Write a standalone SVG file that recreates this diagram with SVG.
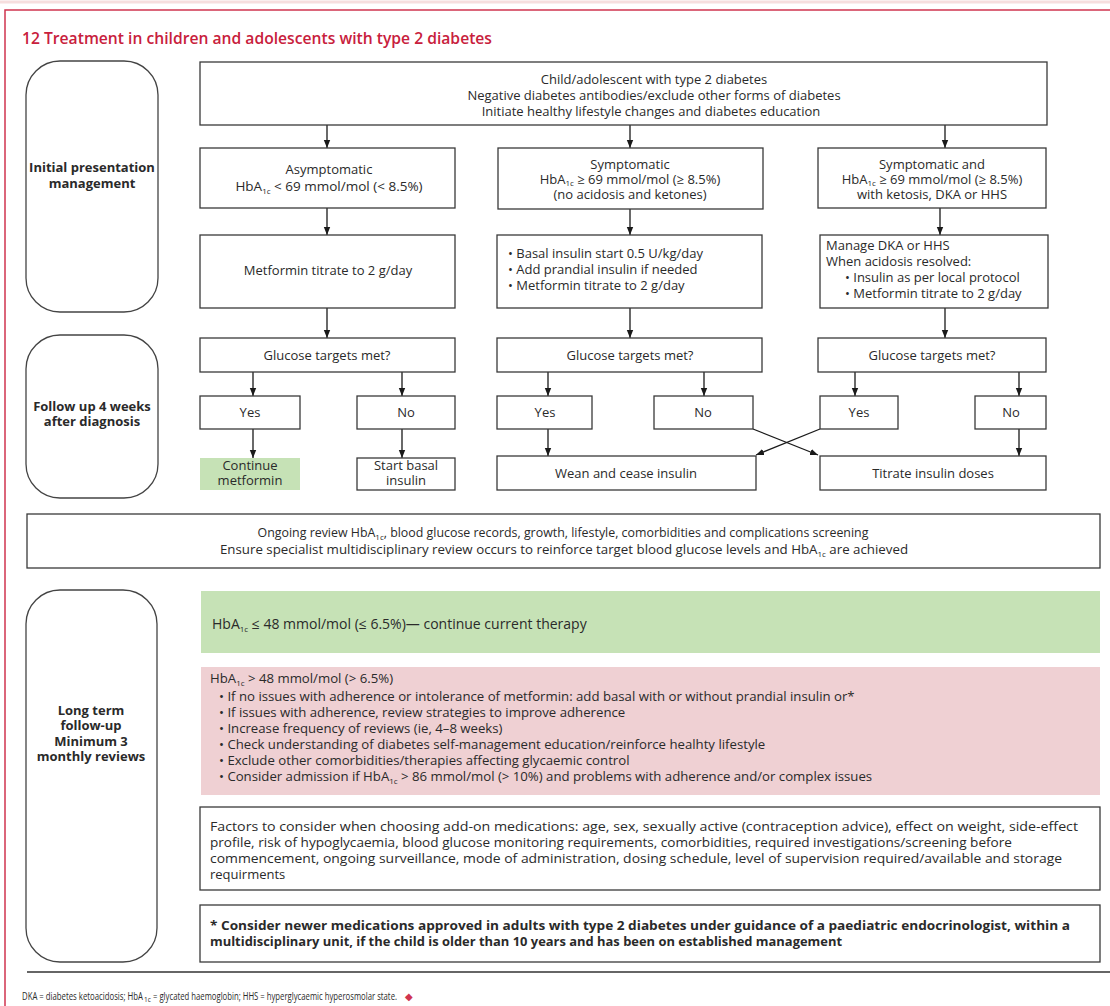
<svg xmlns="http://www.w3.org/2000/svg" width="1110" height="1006" viewBox="0 0 1110 1006">
<defs>
<style>
.t{font-family:"Open Sans","Liberation Sans",Arial,sans-serif;font-size:13px;fill:#2a2a2a}
.c{text-anchor:middle}
.b{font-weight:bold}
.box{fill:#fff;stroke:#3a3a3a;stroke-width:1.3}
.side{fill:#fff;stroke:#444;stroke-width:1.3}
.green{fill:#c6e2b6;stroke:none}
.pink{fill:#efd0d3;stroke:none}
.ln{stroke:#1a1a1a;stroke-width:1.3;fill:none}
.sub{font-size:8px}
.ft{font-family:"Open Sans","Liberation Sans",Arial,sans-serif;font-size:10px;fill:#2a2a2a}
</style>
<marker id="ah" viewBox="0 0 10 10" refX="10" refY="5" markerWidth="8" markerHeight="8" markerUnits="userSpaceOnUse" orient="auto">
<path d="M0,1 L10,5 L0,9 z" fill="#1a1a1a"/>
</marker>
</defs>
<rect x="0" y="0" width="1110" height="1006" fill="#fff"/>
<line x1="0" y1="2" x2="1110" y2="2" stroke="#f6dede" stroke-width="3"/>
<path d="M5,1006 L5,10 L1110,10" fill="none" stroke="#d0344f" stroke-width="1.5"/>
<text x="22" y="44" font-family="'Open Sans','Liberation Sans',sans-serif" font-size="17" font-weight="600" fill="#c8203c" textLength="470" lengthAdjust="spacingAndGlyphs">12  Treatment in children and adolescents with type 2 diabetes</text>

<g id="phase-initial">
<rect class="side" x="26" y="61" width="132" height="251" rx="34"/>
<text class="t c b" x="92" y="172">Initial presentation</text>
<text class="t c b" x="92" y="188">management</text>
</g>
<g id="phase-followup">
<rect class="side" x="26" y="335" width="132" height="163" rx="34"/>
<text class="t c b" x="92" y="411">Follow up 4 weeks</text>
<text class="t c b" x="92" y="426">after diagnosis</text>
</g>
<g id="phase-longterm">
<rect class="side" x="26" y="590" width="131" height="372" rx="34"/>
<text class="t c b" x="91" y="715">Long term</text>
<text class="t c b" x="91" y="730">follow-up</text>
<text class="t c b" x="91" y="746">Minimum 3</text>
<text class="t c b" x="91" y="761">monthly reviews</text>
</g>

<g id="connectors">
<line class="ln" x1="327" y1="125" x2="327" y2="148" marker-end="url(#ah)"/>
<line class="ln" x1="630" y1="125" x2="630" y2="148" marker-end="url(#ah)"/>
<line class="ln" x1="945" y1="125" x2="945" y2="148" marker-end="url(#ah)"/>
<line class="ln" x1="327" y1="208" x2="327" y2="235" marker-end="url(#ah)"/>
<line class="ln" x1="630" y1="209" x2="630" y2="235" marker-end="url(#ah)"/>
<line class="ln" x1="940" y1="208" x2="940" y2="235" marker-end="url(#ah)"/>
<line class="ln" x1="327" y1="308" x2="327" y2="338" marker-end="url(#ah)"/>
<line class="ln" x1="630" y1="308" x2="630" y2="338" marker-end="url(#ah)"/>
<line class="ln" x1="945" y1="308" x2="945" y2="338" marker-end="url(#ah)"/>
<line class="ln" x1="253" y1="372" x2="253" y2="396" marker-end="url(#ah)"/>
<line class="ln" x1="402" y1="372" x2="402" y2="396" marker-end="url(#ah)"/>
<line class="ln" x1="548" y1="372" x2="548" y2="396" marker-end="url(#ah)"/>
<line class="ln" x1="704" y1="372" x2="704" y2="396" marker-end="url(#ah)"/>
<line class="ln" x1="855" y1="372" x2="855" y2="396" marker-end="url(#ah)"/>
<line class="ln" x1="1019" y1="372" x2="1019" y2="396" marker-end="url(#ah)"/>
<line class="ln" x1="253" y1="429" x2="253" y2="458" marker-end="url(#ah)"/>
<line class="ln" x1="402" y1="429" x2="402" y2="458" marker-end="url(#ah)"/>
<line class="ln" x1="548" y1="429" x2="548" y2="456" marker-end="url(#ah)"/>
<line class="ln" x1="1019" y1="429" x2="1019" y2="456" marker-end="url(#ah)"/>
<line class="ln" x1="753" y1="429" x2="818" y2="455" marker-end="url(#ah)"/>
<line class="ln" x1="820" y1="429" x2="756" y2="455" marker-end="url(#ah)"/>
</g>

<g id="start">
<rect class="box" x="200" y="62" width="847" height="63"/>
<text class="t c" x="654" y="84">Child/adolescent with type 2 diabetes</text>
<text class="t c" x="654" y="100">Negative diabetes antibodies/exclude other forms of diabetes</text>
<text class="t c" x="651" y="116">Initiate healthy lifestyle changes and diabetes education</text>
</g>

<g id="asymptomatic">
<rect class="box" x="200" y="148" width="255" height="60"/>
<text class="t c" x="329" y="174">Asymptomatic</text>
<text class="t c" x="329" y="191" style="font-size:13.5px">HbA<tspan class="sub" dy="3">1c</tspan><tspan dy="-3"> &lt; 69 mmol/mol (&lt; 8.5%)</tspan></text>
</g>
<g id="symptomatic">
<rect class="box" x="498" y="148" width="265" height="61"/>
<text class="t c" x="630" y="169">Symptomatic</text>
<text class="t c" x="630" y="184">HbA<tspan class="sub" dy="2">1c</tspan><tspan dy="-2"> ≥ 69 mmol/mol (≥ 8.5%)</tspan></text>
<text class="t c" x="630" y="199">(no acidosis and ketones)</text>
</g>
<g id="symptomatic-dka">
<rect class="box" x="818" y="148" width="228" height="60"/>
<text class="t c" x="932" y="169">Symptomatic and</text>
<text class="t c" x="932" y="184">HbA<tspan class="sub" dy="2">1c</tspan><tspan dy="-2"> ≥ 69 mmol/mol (≥ 8.5%)</tspan></text>
<text class="t c" x="932" y="199">with ketosis, DKA or HHS</text>
</g>

<g id="metformin">
<rect class="box" x="200" y="235" width="255" height="73"/>
<text class="t c" x="328" y="275">Metformin titrate to 2 g/day</text>
</g>
<g id="basal-insulin">
<rect class="box" x="497" y="235" width="265" height="73"/>
<text class="t" x="508" y="258">• Basal insulin start 0.5 U/kg/day</text>
<text class="t" x="508" y="274">• Add prandial insulin if needed</text>
<text class="t" x="508" y="290">• Metformin titrate to 2 g/day</text>
</g>
<g id="manage-dka">
<rect class="box" x="820" y="235" width="228" height="73"/>
<text class="t" x="826" y="250">Manage DKA or HHS</text>
<text class="t" x="826" y="266">When acidosis resolved:</text>
<text class="t" x="845" y="282">• Insulin as per local protocol</text>
<text class="t" x="845" y="298">• Metformin titrate to 2 g/day</text>
</g>

<g id="glucose-1">
<rect class="box" x="200" y="338" width="255" height="34"/>
<text class="t c" x="327" y="360">Glucose targets met?</text>
</g>
<g id="glucose-2">
<rect class="box" x="497" y="338" width="265" height="34"/>
<text class="t c" x="630" y="360">Glucose targets met?</text>
</g>
<g id="glucose-3">
<rect class="box" x="818" y="338" width="228" height="34"/>
<text class="t c" x="932" y="360">Glucose targets met?</text>
</g>

<g id="yes-1">
<rect class="box" x="200" y="396" width="100" height="33"/>
<text class="t c" x="250" y="417">Yes</text>
</g>
<g id="no-1">
<rect class="box" x="357" y="396" width="98" height="33"/>
<text class="t c" x="406" y="417">No</text>
</g>
<g id="yes-2">
<rect class="box" x="497" y="396" width="95" height="33"/>
<text class="t c" x="545" y="417">Yes</text>
</g>
<g id="no-2">
<rect class="box" x="654" y="396" width="99" height="33"/>
<text class="t c" x="703" y="417">No</text>
</g>
<g id="yes-3">
<rect class="box" x="820" y="396" width="78" height="33"/>
<text class="t c" x="859" y="417">Yes</text>
</g>
<g id="no-3">
<rect class="box" x="975" y="396" width="71" height="33"/>
<text class="t c" x="1011" y="417">No</text>
</g>

<g id="continue-metformin">
<rect class="green" x="200" y="458" width="100" height="32"/>
<text class="t c" x="250" y="470">Continue</text>
<text class="t c" x="250" y="485">metformin</text>
</g>
<g id="start-basal">
<rect class="box" x="357" y="458" width="98" height="32" stroke-width="1.6"/>
<text class="t c" x="406" y="470">Start basal</text>
<text class="t c" x="406" y="485">insulin</text>
</g>
<g id="wean">
<rect class="box" x="497" y="456" width="259" height="34"/>
<text class="t c" x="626" y="478">Wean and cease insulin</text>
</g>
<g id="titrate">
<rect class="box" x="820" y="456" width="226" height="34"/>
<text class="t c" x="933" y="478">Titrate insulin doses</text>
</g>

<g id="ongoing-review">
<rect class="box" x="27" y="514" width="1073" height="54"/>
<text class="t c" x="563" y="537" style="font-size:12.4px">Ongoing review HbA<tspan class="sub" dy="3">1c</tspan><tspan dy="-3">, blood glucose records, growth, lifestyle, comorbidities and complications screening</tspan></text>
<text class="t c" x="564" y="554" style="font-size:13.3px">Ensure specialist multidisciplinary review occurs to reinforce target blood glucose levels and HbA<tspan class="sub" dy="3">1c</tspan><tspan dy="-3"> are achieved</tspan></text>
</g>

<g id="target-met">
<rect class="green" x="201" y="591" width="899" height="62"/>
<text class="t" x="212" y="629" style="font-size:14px">HbA<tspan class="sub" dy="3">1c</tspan><tspan dy="-3"> ≤ 48 mmol/mol (≤ 6.5%)— continue current therapy</tspan></text>
</g>

<g id="target-not-met">
<rect class="pink" x="201" y="667" width="899" height="128"/>
<text class="t" x="210" y="683" style="font-size:13.2px">HbA<tspan class="sub" dy="3">1c</tspan><tspan dy="-3"> &gt; 48 mmol/mol (&gt; 6.5%)</tspan></text>
<text class="t" x="219" y="701" style="font-size:13.2px">• If no issues with adherence or intolerance of metformin: add basal with or without prandial insulin or*</text>
<text class="t" x="219" y="717" style="font-size:13.2px">• If issues with adherence, review strategies to improve adherence</text>
<text class="t" x="219" y="733" style="font-size:13.2px">• Increase frequency of reviews (ie, 4–8 weeks)</text>
<text class="t" x="219" y="749" style="font-size:13.2px">• Check understanding of diabetes self-management education/reinforce healhty lifestyle</text>
<text class="t" x="219" y="765" style="font-size:13.2px">• Exclude other comorbidities/therapies affecting glycaemic control</text>
<text class="t" x="219" y="781" style="font-size:13.2px">• Consider admission if HbA<tspan class="sub" dy="3">1c</tspan><tspan dy="-3"> &gt; 86 mmol/mol (&gt; 10%) and problems with adherence and/or complex issues</tspan></text>
</g>

<g id="factors">
<rect class="box" x="200" y="807" width="900" height="83"/>
<text class="t" x="210" y="831" textLength="868" lengthAdjust="spacingAndGlyphs">Factors to consider when choosing add-on medications: age, sex, sexually active (contraception advice), effect on weight, side-effect</text>
<text class="t" x="210" y="847" textLength="802" lengthAdjust="spacingAndGlyphs">profile, risk of hypoglycaemia, blood glucose monitoring requirements, comorbidities, required investigations/screening before</text>
<text class="t" x="210" y="863" textLength="852" lengthAdjust="spacingAndGlyphs">commencement, ongoing surveillance, mode of administration, dosing schedule, level of supervision required/available and storage</text>
<text class="t" x="210" y="879">requirments</text>
</g>

<g id="newer-medications">
<rect class="box" x="200" y="905" width="900" height="57"/>
<text class="t b" x="210" y="930" textLength="860" lengthAdjust="spacingAndGlyphs">* Consider newer medications approved in adults with type 2 diabetes under guidance of a paediatric endocrinologist, within a</text>
<text class="t b" x="210" y="946" textLength="632" lengthAdjust="spacingAndGlyphs">multidisciplinary unit, if the child is older than 10 years and has been on established management</text>
</g>

<line x1="27" y1="972" x2="1110" y2="972" stroke="#333" stroke-width="1.5"/>
<g id="footer">
<text class="ft" x="22" y="1000" textLength="121" lengthAdjust="spacingAndGlyphs">DKA = diabetes ketoacidosis; HbA</text>
<text class="ft" x="144" y="1002" style="font-size:6.5px">1c</text>
<text class="ft" x="153" y="1000" textLength="244" lengthAdjust="spacingAndGlyphs">= glycated haemoglobin; HHS = hyperglycaemic hyperosmolar state.</text>
<text x="405" y="1000" font-family="'DejaVu Sans',sans-serif" font-size="10" fill="#d0344f">◆</text>
</g>
</svg>
